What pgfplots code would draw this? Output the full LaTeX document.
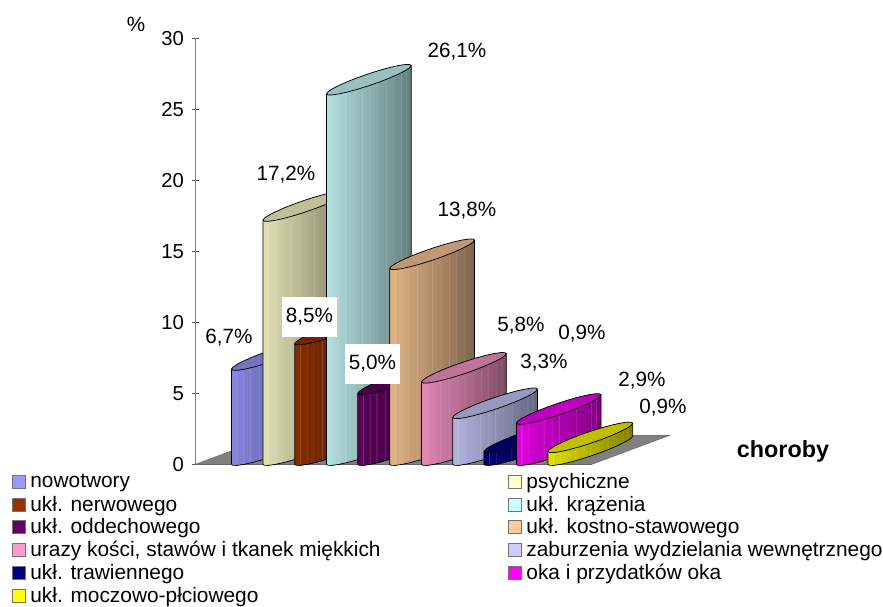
\documentclass[border=0pt]{standalone}
\usepackage{pgfplots}
\usepackage{pgfplotstable}
\usepackage{fontspec}
\setmainfont{Liberation Sans}
\pgfplotsset{compat=1.18}
\definecolor{c1}{HTML}{9999FF}
\definecolor{c2}{HTML}{FFFFCC}
\definecolor{c3}{HTML}{993300}
\definecolor{c4}{HTML}{CCFFFF}
\definecolor{c5}{HTML}{660066}
\definecolor{c6}{HTML}{FFCC99}
\definecolor{c7}{HTML}{FF99CC}
\definecolor{c8}{HTML}{CCCCFF}
\definecolor{c9}{HTML}{000080}
\definecolor{c10}{HTML}{FF00FF}
\definecolor{c11}{HTML}{FFFF00}
\newcommand\mkshade[1]{%
\pgfdeclarehorizontalshading{sh#1}{100bp}{%
color(0bp)=(c#1!88!black);
color(25bp)=(c#1!88!black);
color(27.7bp)=(c#1!86!black);color(28bp)=(c#1!86!black!80!white);color(28.3bp)=(c#1!85!black);
color(31.7bp)=(c#1!83!black);color(32bp)=(c#1!83!black!84!white);color(32.3bp)=(c#1!82!black);
color(35.7bp)=(c#1!80!black);color(36bp)=(c#1!80!black!80!white);color(36.3bp)=(c#1!79!black);
color(40.7bp)=(c#1!76!black);color(41bp)=(c#1!76!black!84!white);color(41.3bp)=(c#1!76!black);
color(45.7bp)=(c#1!72!black);color(46bp)=(c#1!72!black!80!white);color(46.3bp)=(c#1!72!black);
color(49.7bp)=(c#1!69!black);color(50bp)=(c#1!69!black!84!white);color(50.3bp)=(c#1!69!black);
color(54.7bp)=(c#1!66!black);color(55bp)=(c#1!66!black!80!white);color(55.3bp)=(c#1!65!black);
color(59.7bp)=(c#1!62!black);color(60bp)=(c#1!62!black!84!white);color(60.3bp)=(c#1!61!black);
color(63.7bp)=(c#1!59!black);color(64bp)=(c#1!59!black!84!white);color(64.3bp)=(c#1!58!black);
color(68.7bp)=(c#1!55!black);color(69bp)=(c#1!55!black!86!white);color(69.3bp)=(c#1!54!black);
color(71.7bp)=(c#1!52!black);color(72bp)=(c#1!52!black!86!white);color(72.3bp)=(c#1!52!black);
color(75bp)=(c#1!48!black);
color(100bp)=(c#1!48!black)}}
\mkshade{1}\mkshade{2}\mkshade{3}\mkshade{4}\mkshade{5}\mkshade{6}
\mkshade{7}\mkshade{8}\mkshade{9}\mkshade{10}\mkshade{11}
% cylinder outline relative to its left tip: x in px, y in value units, h=1 at the top
\pgfplotstableread{
x y h
0 0 0
1.44 -.075 0
5.67 -.077 0
12.40 -.007 0
21.18 .132 0
31.39 .330 0
42.35 .574 0
53.31 .846 0
63.53 1.129 0
72.30 1.403 0
79.03 1.648 0
83.26 1.850 0
84.7 1.993 0
84.7 1.993 1
0 0 1
0 0 0
}\bodyshape
\pgfplotstableread{
x y
0 0
1.44 -.075
5.67 -.077
12.40 -.007
21.18 .132
31.39 .330
42.35 .574
53.31 .846
63.53 1.129
72.30 1.403
79.03 1.648
83.26 1.850
84.7 1.993
83.26 2.068
79.03 2.070
72.30 2.0
63.53 1.861
53.31 1.663
42.35 1.419
31.39 1.147
21.18 .865
12.40 .590
5.67 .345
1.44 .143
0 0
}\topshape
% left-tip x (px), value, series number
\newcommand\cyl[3]{%
\addplot[forget plot,draw=black,line width=.55pt,shading=sh#3] table[x expr=\thisrow{x}+#1,y expr=\thisrow{y}+\thisrow{h}*#2] {\bodyshape};
\addplot[forget plot,draw=black,line width=.55pt,fill=c#3!75!black] table[x expr=\thisrow{x}+#1,y expr=\thisrow{y}+#2] {\topshape};
}
\newcommand\T[4][]{\node[inner sep=0pt,font=\fontsize{15.5}{18}\selectfont,#1] at ({(#2-195.5)*.75pt},{(464.3-#3)*.75pt}) {#4};}
\newcommand\LE[1]{\addlegendentry{\makebox[361.75pt][l]{\hspace{3.5pt}#1}}}
\newcommand\RE[1]{\addlegendentry{\hspace{3.5pt}#1}}
\begin{document}
\begin{tikzpicture}
\useasboundingbox (-146.625pt,-107.025pt) rectangle (515.625pt,348.225pt);
\begin{axis}[
  scale only axis,width=297.375pt,height=319.35pt,
  xmin=195.5,xmax=592,ymin=0,ymax=30,
  clip=false,
  axis lines=left,
  axis line style={-,draw=black!50,line width=1.1pt},
  ytick={0,5,...,30},
  xtick=\empty,
  minor xtick={231.5,263,295,326.5,358,390,421.5,453,484,516,548,580},
  major tick length=5pt,
  minor tick length=1.5pt,
  minor x tick style={draw=black!50,line width=.5pt},
  y tick style={draw=black!65,line width=.5pt},
  /pgf/number format/assume math mode=true,
  tick label style={font=\fontsize{15.2}{18}\selectfont},
  yticklabel style={inner sep=0pt,xshift=-6pt},
  legend columns=2,
  legend cell align=left,
  legend style={at={(axis cs:12,-.65)},anchor=north west,draw=none,fill=none,inner sep=0pt,outer sep=0pt,
    nodes={inner sep=0pt,outer sep=0pt,font=\fontsize{15.65}{17}\selectfont},row sep=4.1pt,column sep=0pt},
  legend image code/.code={\draw[draw=black!55,line width=.7pt,#1] (0pt,-4.9pt) rectangle (9.6pt,4.9pt);},
]
\addlegendimage{fill=c1}\LE{nowotwory}
\addlegendimage{fill=c2}\RE{psychiczne}
\addlegendimage{fill=c3}\LE{ukł. nerwowego}
\addlegendimage{fill=c4}\RE{ukł. krążenia}
\addlegendimage{fill=c5}\LE{ukł. oddechowego}
\addlegendimage{fill=c6}\RE{ukł. kostno-stawowego}
\addlegendimage{fill=c7}\LE{urazy kości, stawów i tkanek miękkich}
\addlegendimage{fill=c8}\RE{zaburzenia wydzielania wewnętrznego}
\addlegendimage{fill=c9}\LE{ukł. trawiennego}
\addlegendimage{fill=c10}\RE{oka i przydatków oka}
\addlegendimage{fill=c11}\LE{ukł. moczowo-płciowego}
% floor
\addplot[forget plot,draw=black!65,line width=.3pt,fill=black!50] coordinates {(195.5,0) (592,0) (670,2.05) (273.5,2.05)} --cycle;
\cyl{231.5}{6.7}{1}
\cyl{263}{17.2}{2}
\cyl{294.8}{8.5}{3}
\cyl{326.5}{26.1}{4}
\cyl{357.8}{5.0}{5}
\cyl{389.8}{13.8}{6}
\cyl{421.6}{5.8}{7}
\cyl{452.8}{3.3}{8}
\cyl{484}{0.9}{9}
\cyl{516.4}{2.9}{10}
\cyl{548}{0.9}{11}
\end{axis}
\T{457}{52}{26,1\%}
\T{286}{175}{17,2\%}
\T{467}{211}{13,8\%}
\T{229}{338}{6,7\%}
\T[fill=white,minimum width=41.25pt,minimum height=30pt]{309.5}{317}{8,5\%}
\T[fill=white,minimum width=41.25pt,minimum height=30pt]{372.5}{364}{5,0\%}
\T{521}{326}{5,8\%}
\T{582}{334}{0,9\%}
\T{544}{363}{3,3\%}
\T{642}{381}{2,9\%}
\T{663}{408}{0,9\%}
\T{136}{24}{\%}
\T[font=\fontsize{17.5}{20}\selectfont]{783}{451}{\textbf{choroby}}
\end{tikzpicture}
\end{document}
